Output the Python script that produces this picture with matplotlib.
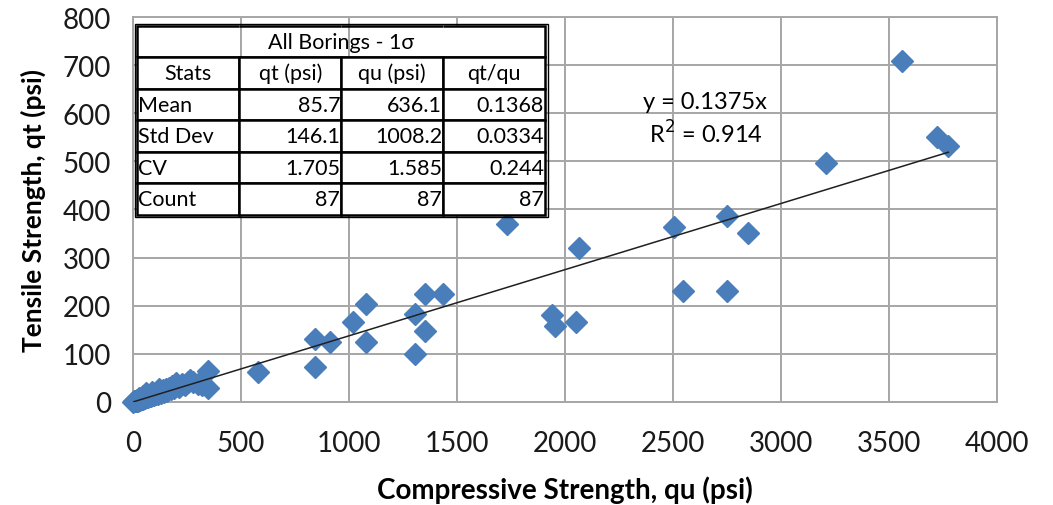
import matplotlib.pyplot as plt
import numpy as np
from matplotlib.patches import Rectangle

plt.rcParams['font.family'] = ['Lato', 'DejaVu Sans']

# compressive strength qu (psi) and tensile strength qt (psi)
qu_far = [3560, 3720, 3775, 3210, 2750, 2847, 2505, 2546, 2750, 2065, 1731,
          1940, 1954, 2051, 1352, 1435, 1306, 1352, 1306, 1079, 1019, 1079,
          843, 912, 843, 579, 345, 345]
qt_far = [708, 550, 532, 497, 387, 351, 364, 231, 231, 320, 370,
          181, 158, 166, 225, 225, 183, 148, 100, 204, 166, 125,
          131, 125, 73, 62, 64, 30]
qu_near = [2, 5, 8, 11, 14, 17, 20, 23, 26, 29, 31, 34, 37, 40, 43, 46,
           49, 52, 55, 57, 60, 63, 66, 69, 72, 75, 78, 82, 86, 90, 94,
           98, 103, 108, 113, 118, 124, 130, 137, 144, 151, 158, 166,
           174, 182, 190, 200, 212, 226, 240, 255, 264, 280, 300, 320,
           60, 45, 30, 90, 120, 15]
qt_near = [0, 1, 2, 1, 3, 2, 4, 3, 5, 4, 6, 5, 7, 6, 8, 7,
           9, 8, 10, 9, 11, 10, 12, 11, 13, 12, 14, 13, 15, 14, 16,
           15, 17, 16, 20, 17, 22, 19, 25, 21, 27, 23, 30, 26, 33, 29,
           40, 32, 38, 35, 42, 46, 42, 38, 36, 18, 12, 8, 20, 28, 3]
qu = np.array(qu_far + qu_near)
qt = np.array(qt_far + qt_near)

slope = 0.1375
r2 = 0.914

table_title = 'All Borings - 1σ'
col_labels = ['Stats', 'qt (psi)', 'qu (psi)', 'qt/qu']
row_labels = ['Mean', 'Std Dev', 'CV', 'Count']
table_vals = [['85.7', '636.1', '0.1368'],
              ['146.1', '1008.2', '0.0334'],
              ['1.705', '1.585', '0.244'],
              ['87', '87', '87']]

blue = '#4A7EBB'

fig = plt.figure(figsize=(10.53, 5.06), dpi=100)
ax = fig.add_axes([0.1263, 0.2036, 0.8205, 0.7608])

ax.set_xlim(0, 4000)
ax.set_ylim(0, 800)
ax.set_xticks(np.arange(0, 4001, 500))
ax.set_yticks(np.arange(0, 801, 100))
ax.grid(True, color='#A6A6A6', lw=1.4)
ax.set_axisbelow(True)
for s in ax.spines.values():
    s.set_color('#A6A6A6')
    s.set_linewidth(1.4)
ax.tick_params(length=0, labelsize=20, colors='#1a1a1a')
ax.tick_params(axis='x', pad=20)
ax.tick_params(axis='y', pad=16)

ax.plot(qu, qt, 'D', color=blue, ms=11.5, mec=blue, clip_on=False, zorder=3)

xs = np.array([qu.min(), qu.max()])
ax.plot(xs, slope * xs, color='#202020', lw=1.1, zorder=4)

ax.text(2650, 625, 'y = %.4fx' % slope, ha='center', va='center', fontsize=17)
ax.text(2650, 560, 'R$^2$ = %.3f' % r2, ha='center', va='center', fontsize=17)

ax.set_xlabel('Compressive Strength, qu (psi)', fontsize=20, fontweight='bold', labelpad=14)
ax.set_ylabel('Tensile Strength, qt (psi)', fontsize=19, fontweight='bold', labelpad=12)

# stats table in the upper left
x0, x1 = 0.005, 0.477
y0, y1 = 0.486, 0.977
cells = [col_labels] + [[r] + v for r, v in zip(row_labels, table_vals)]
nrow = len(cells) + 1
h = (y1 - y0) / nrow
tb = ax.table(cellText=[[''] * 4] + cells, bbox=[x0, y0, x1 - x0, y1 - y0],
              cellLoc='right', zorder=6)
tb.auto_set_font_size(False)
tb.set_fontsize(15.5)
for (r, c), cell in tb.get_celld().items():
    cell.set_edgecolor('black')
    cell.set_linewidth(1.8)
    cell.set_facecolor('white')
    cell.PAD = 0.01
    if r == 0:
        cell.visible_edges = {0: 'BTL', 3: 'BTR'}.get(c, 'BT')
    elif r == 1 or c == 0:
        cell.get_text().set_ha('center' if r == 1 else 'left')
ax.text((x0 + x1) / 2, y1 - h / 2, table_title, transform=ax.transAxes,
        ha='center', va='center', fontsize=15.5, zorder=7)
ax.add_patch(Rectangle((x0 - 0.003, y0 - 0.006), x1 - x0 + 0.006, y1 - y0 + 0.012,
                       transform=ax.transAxes, fill=False, ec='black', lw=1.0,
                       zorder=7, clip_on=False))

fig.savefig('out.png', dpi=100)
